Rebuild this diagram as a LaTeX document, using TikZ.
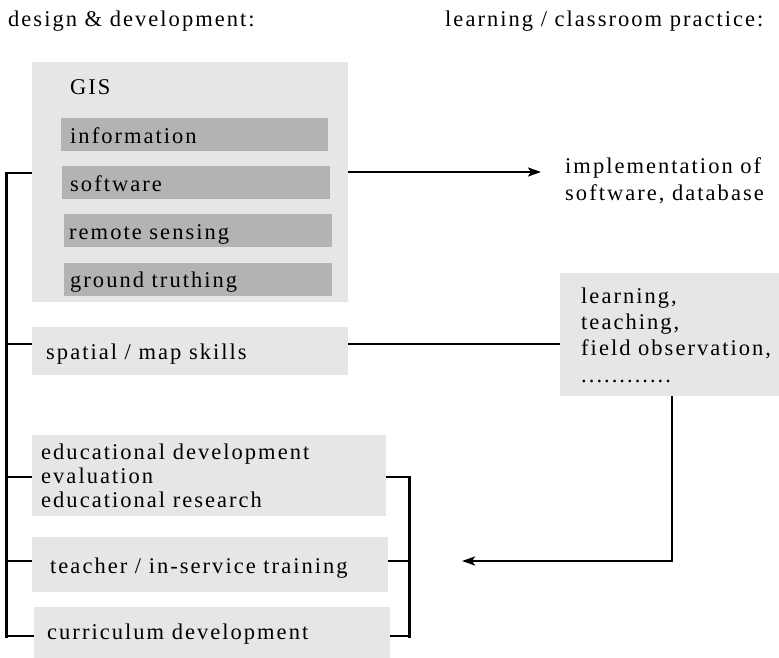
\documentclass[tikz,border=0pt]{standalone}
\usepackage{fontspec}
\setmainfont{Liberation Serif}[LetterSpace=9]
\usetikzlibrary{arrows.meta}
\definecolor{boxlight}{HTML}{E6E6E6}
\definecolor{boxdark}{HTML}{B3B3B3}
\tikzset{
  lbl/.style={inner sep=0pt, anchor=base west, align=left, font=\fontsize{22.5}{26}\selectfont},
  panel/.style={fill=boxlight, draw=none, inner sep=0pt},
  subpanel/.style={fill=boxdark, draw=none, inner sep=0pt},
  wire/.style={line width=2.4pt},
  bus/.style={line width=3pt, line cap=rect},
  tip/.style={-{Stealth[length=13pt,width=9pt,inset=3pt]}}
}
\begin{document}
\begin{tikzpicture}[x=1pt,y=-1pt]
\useasboundingbox (0,0) rectangle (779,658);
% boxes
\node[panel, minimum width=316pt, minimum height=240pt] (gis) at (190,182) {};
\node[subpanel, minimum width=267pt, minimum height=33pt] (info) at (194.5,134.5) {};
\node[subpanel, minimum width=268pt, minimum height=33pt] (soft) at (196,182.5) {};
\node[subpanel, minimum width=268pt, minimum height=33pt] (rs) at (198,230.5) {};
\node[subpanel, minimum width=268pt, minimum height=33pt] (gt) at (198,279.5) {};
\node[panel, minimum width=316pt, minimum height=48pt] (spatial) at (190,351) {};
\node[panel, minimum width=220pt, minimum height=123pt] (learn) at (670,334.5) {};
\node[panel, minimum width=354pt, minimum height=81pt] (edu) at (209,475.5) {};
\node[panel, minimum width=356pt, minimum height=55pt] (teach) at (210,564.5) {};
\node[panel, minimum width=356pt, minimum height=51pt] (curr) at (212,632.5) {};
% texts (multi-line texts are placed by their last baseline)
\node[lbl] (hdl) at (8,27) {design \& development:};
\node[lbl] (hdr) at (445,27) {learning / classroom practice:};
\node[lbl] (tgis) at (70,95) {GIS};
\node[lbl] (tinfo) at (70,143) {information};
\node[lbl] (tsoft) at (70,191) {software};
\node[lbl] (trs) at (69,239) {remote sensing};
\node[lbl] (tgt) at (70,287) {ground truthing};
\node[lbl] (impl) at (565,200) {implementation of\\software, database};
\node[lbl] (tspatial) at (46,359) {spatial / map skills};
\node[lbl, font=\fontsize{22.5}{26.3}\selectfont] (tlearn) at (581,382) {learning,\\teaching,\\field observation,\\............};
\node[lbl, font=\fontsize{22.5}{24}\selectfont] (tedu) at (41,507) {educational development\\evaluation\\educational research};
\node[lbl] (tteach) at (50,573) {teacher / in-service training};
\node[lbl] (tcurr) at (47,639) {curriculum development};
% connector coordinates
\coordinate (b1) at (6,173);
\coordinate (b2) at (6,344);
\coordinate (b3) at (6,477);
\coordinate (b4) at (6,561);
\coordinate (b5) at (6,636);
\coordinate (r1) at (409,477);
\coordinate (r3) at (409,636);
\coordinate (a1) at (541,172);
\coordinate (a2) at (462,561);
\coordinate (c1) at (672,561);
% left bus
\draw[bus] (b1) -- (b5);
\draw[wire] (b1) -- (gis.west |- b1);
\draw[wire] (b2) -- (spatial.west |- b2);
\draw[wire] (b3) -- (edu.west |- b3);
\draw[wire] (b4) -- (teach.west |- b4);
\draw[wire] (b5) -- (curr.west |- b5);
% right bracket
\draw[bus] (r1) -- (r3);
\draw[wire] (edu.east |- r1) -- (r1);
\draw[wire] (teach.east |- b4) -- ([xshift=2pt]r1 |- b4);
\draw[wire] (curr.east |- r3) -- (r3);
% arrows
\draw[wire, tip] (gis.east |- a1) -- (a1);
\draw[wire] (spatial.east |- b2) -- (learn.west |- b2);
\draw[wire, tip] (learn.south -| c1) -- (c1) -- (a2);
\end{tikzpicture}
\end{document}
